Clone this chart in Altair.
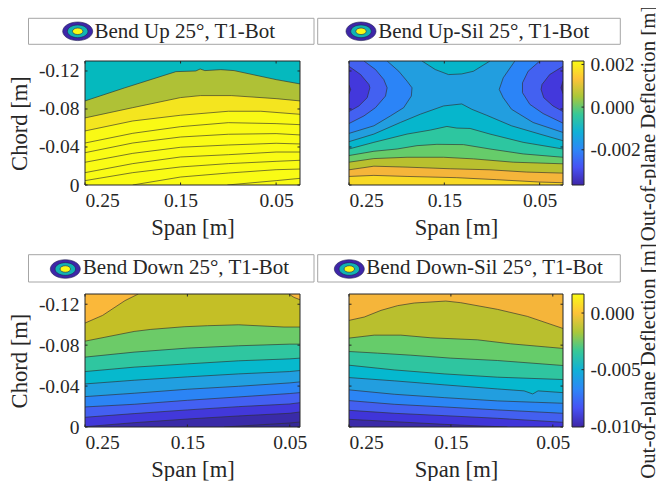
import altair as alt
import pandas as pd

FONT = "Liberation Serif"
INK = "#262626"
LINE = "#303030"
FS = 19.5
FT_LEG = 21
FT_AX = 22.6
FT_CB = 20.8

SPAN_TICKS = [0.25, 0.15, 0.05]
CHORD_TICKS = [-0.12, -0.08, -0.04, 0]
PARULA = ["#3e26a8", "#4752f4", "#2d87f7", "#11b1d6", "#37c897", "#abc739", "#fec338", "#f9fb15"]

# Panel A: Bend Up 25 (contours, top to bottom)
A1 = ([0.25, 0.2089, 0.1549, 0.134, 0.1295, 0.1246, 0.1079, 0.094, 0.05, 0.025],
      [-0.0885, -0.1021, -0.1193, -0.12, -0.1221, -0.1204, -0.1214, -0.1204, -0.1109, -0.1064])
A2 = ([0.25, 0.2, 0.15, 0.129, 0.097, 0.05, 0.025],
      [-0.0706, -0.0814, -0.092, -0.0941, -0.0941, -0.0909, -0.0885])
A3 = ([0.25, 0.2, 0.15, 0.1, 0.066, 0.025], [-0.0569, -0.0674, -0.0734, -0.0776, -0.0776, -0.0744])
A4 = ([0.25, 0.2, 0.15, 0.1, 0.05, 0.025], [-0.0442, -0.0544, -0.0614, -0.0656, -0.0646, -0.0635])
A5 = ([0.25, 0.2, 0.15, 0.1, 0.05, 0.025], [-0.034, -0.0442, -0.0505, -0.0534, -0.0541, -0.0527])
A6 = ([0.25, 0.2, 0.15, 0.1, 0.05, 0.025], [-0.0239, -0.0333, -0.0397, -0.0421, -0.0439, -0.0432])
A7 = ([0.25, 0.2, 0.15, 0.1, 0.05, 0.025], [-0.013, -0.0225, -0.0295, -0.0319, -0.0347, -0.0347])
A8 = ([0.25, 0.2, 0.15, 0.1, 0.05, 0.025], [-0.0046, -0.013, -0.019, -0.0225, -0.0249, -0.026])
A9 = ([0.2, 0.15, 0.1, 0.05, 0.025], [0, -0.0084, -0.0126, -0.0161, -0.0168])
A10 = ([0.101, 0.05, 0.025], [0, -0.0046, -0.007])
A_BASE = "#05b9be"
A_COLORS = ["#afc136", "#f4e51f", "#f9f915", "#f9fa15", "#f9fb15", "#f9fb15", "#f9fb15", "#f9fb15", "#f9fb15", "#f9fb15"]

# Panel B: Bend Up-Sil 25
B_TOP = ([0.1734, 0.1595, 0.1456, 0.1317, 0.1195, 0.1021], [-0.1305, -0.1215, -0.1162, -0.1169, -0.1197, -0.1305])
B_L_OUT = ([0.21, 0.1978, 0.1891, 0.1839, 0.1846, 0.1926, 0.2065, 0.2239, 0.25],
           [-0.1305, -0.1197, -0.1093, -0.1023, -0.0936, -0.0814, -0.0727, -0.0623, -0.0543])
B_L_MED = ([0.2343, 0.2222, 0.2135, 0.21, 0.2117, 0.2222, 0.2343, 0.25],
           [-0.1305, -0.1215, -0.111, -0.1023, -0.0936, -0.0814, -0.0727, -0.0647])
B_L_DARK = ([0.25, 0.2378, 0.2291, 0.2281, 0.2309, 0.2396, 0.25],
            [-0.1249, -0.1162, -0.1058, -0.1023, -0.0919, -0.0832, -0.0773])
B_L_CORE = ([0.25, 0.2483, 0.25], [-0.1051, -0.1006, -0.096])
B_R_OUT = ([0.076, 0.0882, 0.0924, 0.0882, 0.0795, 0.0569, 0.0255],
           [-0.1305, -0.1128, -0.1006, -0.0919, -0.0797, -0.0658, -0.0553])
B_R_MED = ([0.0499, 0.0621, 0.068, 0.068, 0.0603, 0.0464, 0.0255],
           [-0.1305, -0.1197, -0.1075, -0.0971, -0.0849, -0.0752, -0.0651])
B_R_DARK = ([0.0255, 0.0395, 0.0475, 0.0485, 0.0457, 0.036, 0.0255],
            [-0.1249, -0.1162, -0.1058, -0.1006, -0.0919, -0.0832, -0.0773])
B_R_CORE = ([0.0255, 0.0276, 0.0255], [-0.1093, -0.1023, -0.096])
B1 = ([0.25, 0.2239, 0.1961, 0.1752, 0.1508, 0.1317, 0.1212, 0.1056, 0.0795, 0.0499, 0.0255],
      [-0.0456, -0.0536, -0.0658, -0.0745, -0.0832, -0.0853, -0.0797, -0.0734, -0.0623, -0.0536, -0.0466])
B2 = ([0.25, 0.2239, 0.1891, 0.1647, 0.1473, 0.1369, 0.123, 0.1021, 0.0673, 0.0255],
      [-0.0379, -0.0449, -0.0536, -0.0578, -0.0616, -0.0599, -0.0595, -0.0536, -0.0449, -0.0379])
B3 = ([0.25, 0.2239, 0.1995, 0.1787, 0.1578, 0.1299, 0.1021, 0.0673, 0.0255],
      [-0.031, -0.0355, -0.0379, -0.0414, -0.0428, -0.0425, -0.0379, -0.0327, -0.0292])
B4 = ([0.25, 0.2239, 0.1891, 0.1508, 0.1195, 0.0777, 0.0255], [-0.024, -0.0278, -0.0292, -0.0292, -0.0275, -0.024, -0.0223])
B5 = ([0.25, 0.2239, 0.1891, 0.1439, 0.1021, 0.0638, 0.0255], [-0.016, -0.0198, -0.0188, -0.0171, -0.016, -0.0136, -0.0125])
B6 = ([0.25, 0.2239, 0.1891, 0.1369, 0.0951, 0.0499, 0.0255], [-0.009, -0.0101, -0.009, -0.0077, -0.0056, -0.0031, -0.0024])
B_BASE = "#229edf"
B_TOP_COLOR = "#06b5c9"
B_COLORS = ["#06b6cc", "#2dc6a0", "#66cc6a", "#b9c02f", "#f5b53a", "#f8d925"]
B_BLOB_COLORS = ["#2b84f7", "#4361f1", "#4338dc", "#3f26a8"]

# Panel C: Bend Down 25
C_TL = ([0.25, 0.2328, 0.211, 0.198], [-0.1016, -0.1091, -0.1235, -0.13])
C_TR = ([0.0508, 0.0459, 0.04], [-0.13, -0.1267, -0.1244])
C1 = ([0.25, 0.202, 0.1857, 0.1532, 0.1304, 0.0999, 0.0557, 0.04],
      [-0.0839, -0.0934, -0.0954, -0.098, -0.099, -0.0999, -0.0977, -0.0977])
C_SPAN = [0.25, 0.202, 0.15, 0.1, 0.05, 0.04]
C2 = (C_SPAN, [-0.0683, -0.0732, -0.0771, -0.0794, -0.081, -0.081])
C3 = (C_SPAN, [-0.0542, -0.0585, -0.0617, -0.0647, -0.0666, -0.0673])
C4 = (C_SPAN, [-0.0421, -0.0457, -0.049, -0.0519, -0.0542, -0.0552])
C5 = (C_SPAN, [-0.0297, -0.033, -0.0369, -0.0398, -0.0431, -0.0441])
C6 = (C_SPAN, [-0.0196, -0.0222, -0.0261, -0.0294, -0.0327, -0.0336])
C7 = (C_SPAN, [-0.0095, -0.0131, -0.0167, -0.0199, -0.0225, -0.0238])
C8 = (C_SPAN, [-0.0003, -0.0042, -0.0078, -0.0108, -0.0134, -0.0147])
C9 = ([0.1142, 0.05, 0.04], [0, -0.0039, -0.0049])
C_BASE = "#c4bf26"
C_TOP_COLOR = "#fab83a"
C_COLORS = ["#6ccb68", "#2fc6a0", "#06b9cd", "#219fe0", "#2b84f5", "#4360f2", "#4238da", "#3a2ba8", "#352897"]

# Panel D: Bend Down-Sil 25
D1 = ([0.25, 0.235, 0.2186, 0.2023, 0.186, 0.155, 0.1403, 0.1043, 0.0749, 0.04],
      [-0.1042, -0.1075, -0.114, -0.1186, -0.1212, -0.1231, -0.1215, -0.115, -0.1081, -0.0963])
D2 = ([0.25, 0.2252, 0.1991, 0.1697, 0.1239, 0.0913, 0.04], [-0.0869, -0.0898, -0.0898, -0.0872, -0.0852, -0.0813, -0.0768])
D3 = ([0.25, 0.2219, 0.1893, 0.15, 0.1043, 0.04], [-0.0738, -0.0722, -0.0702, -0.0673, -0.065, -0.0601])
D4 = ([0.25, 0.2056, 0.1566, 0.1043, 0.04], [-0.0604, -0.0558, -0.0519, -0.0487, -0.0464])
D5 = ([0.25, 0.2056, 0.1566, 0.1043, 0.0782, 0.0697, 0.0645, 0.04],
      [-0.0483, -0.0451, -0.0412, -0.0372, -0.0353, -0.0323, -0.0353, -0.0336])
D6 = ([0.25, 0.2056, 0.1566, 0.1043, 0.04], [-0.0363, -0.032, -0.0287, -0.0255, -0.0232])
D7 = ([0.25, 0.2056, 0.1566, 0.1043, 0.04], [-0.0258, -0.0222, -0.0196, -0.0167, -0.0134])
D8 = ([0.25, 0.2056, 0.1566, 0.1043, 0.04], [-0.0163, -0.0134, -0.0111, -0.0085, -0.0046])
D9 = ([0.25, 0.2056, 0.1566, 0.1207, 0.0946], [-0.0075, -0.0052, -0.0026, -0.001, 0])
D_BASE = "#f5b53a"
D_COLORS = ["#b9bf2e", "#66cc6a", "#2fc5a0", "#05b8cf", "#229edf", "#2b85f5", "#4360f0", "#4035d9", "#3b2aa8"]

W_L, W_R, H_T, H_B = 215, 214, 124, 133
DOM_T, DOM_B = -0.1305, -0.13


def pts(c):
    return pd.DataFrame({"span": c[0], "chord": c[1], "i": range(len(c[0]))})


def encoders(xdom, ydom, ylabels):
    ax_x = alt.Axis(values=SPAN_TICKS, format=".2f", title="Span [m]", ticks=False, domain=False, grid=False,
                    labelFont=FONT, titleFont=FONT, labelFontSize=FS, titleFontSize=FT_AX, titleFontWeight="normal",
                    labelColor=INK, titleColor=INK, labelPadding=6.5, titlePadding=6, labelOverlap=False)
    ax_y = alt.Axis(values=CHORD_TICKS, title="Chord [m]" if ylabels else "", ticks=False, domain=False, grid=False,
                    labels=ylabels, labelFont=FONT, titleFont=FONT, labelFontSize=FS, titleFontSize=FT_AX,
                    titleFontWeight="normal", labelColor=INK, titleColor=INK, labelPadding=6, titlePadding=7,
                    labelExpr="datum.value == 0 ? '0' : '-' + format(abs(datum.value), '.2f')", labelOverlap=False)
    x = alt.X("span:Q", scale=alt.Scale(domain=xdom, nice=False, zero=False), axis=ax_x)
    y = alt.Y("chord:Q", scale=alt.Scale(domain=ydom, nice=False, zero=False), axis=ax_y)
    return x, y


def band(c, color, to, x, y):
    """Fill from a contour to a chord level, and the contour line itself."""
    df = pts(c)
    a = alt.Chart(df).mark_area(color=color, clip=True, interpolate="linear").encode(
        x=x, y=y, y2=alt.Y2(datum=to))
    l = alt.Chart(df).mark_line(color=LINE, strokeWidth=0.75, opacity=0.85, clip=True).encode(
        x=x, y=y, order="i:Q")
    return [a, l]


def blob(c, color, edge, x, y):
    """Side region: span as a function of chord, closed against a span edge."""
    df = pts(c)
    a = alt.Chart(df).mark_area(color=color, orient="horizontal", clip=True).encode(
        x=x, x2=alt.X2(datum=edge), y=y)
    l = alt.Chart(df).mark_line(color=LINE, strokeWidth=0.75, opacity=0.85, clip=True).encode(
        x=x, y=y, order="i:Q")
    return [a, l]


def furniture(title, legend_box, icon, text_x, text_y, w, h, x, y):
    box = alt.Chart(alt.Data(values=[{"t": title}]))
    out = []
    out.append(box.mark_rect(fill="white", stroke="#a6a6a6", strokeWidth=1).encode(
        x=alt.value(legend_box[0]), x2=alt.value(legend_box[1]),
        y=alt.value(legend_box[2]), y2=alt.value(legend_box[3])))
    for size, col, in [(900, "#3e26a8"), (420, "#11b3b3"), (110, "#f9fb15")]:
        out.append(box.mark_point(
            shape="M-1,0A1,0.62,0,1,1,1,0A1,0.62,0,1,1,-1,0Z", filled=True, fill=col, opacity=1,
            stroke="#202050", strokeWidth=0.6, size=size).encode(x=alt.value(icon[0]), y=alt.value(icon[1])))
    out.append(box.mark_text(font=FONT, fontSize=FT_LEG, align="left", baseline="middle", color=INK).encode(
        x=alt.value(text_x), y=alt.value(text_y), text="t:N"))
    # inward ticks and frame
    xt = alt.Chart(pd.DataFrame({"span": SPAN_TICKS}))
    yt = alt.Chart(pd.DataFrame({"chord": CHORD_TICKS}))
    out.append(xt.mark_rule(color=INK, strokeWidth=1).encode(x=x, y=alt.value(h), y2=alt.value(h - 2.5)))
    out.append(xt.mark_rule(color=INK, strokeWidth=1).encode(x=x, y=alt.value(0), y2=alt.value(2.5)))
    out.append(yt.mark_rule(color=INK, strokeWidth=1).encode(y=y, x=alt.value(0), x2=alt.value(2.5)))
    out.append(yt.mark_rule(color=INK, strokeWidth=1).encode(y=y, x=alt.value(w), x2=alt.value(w - 2.5)))
    out.append(box.mark_rect(fillOpacity=0, stroke=INK, strokeWidth=1).encode(
        x=alt.value(0), x2=alt.value(w), y=alt.value(0), y2=alt.value(h)))
    return out


# ---------- A
x, y = encoders([0.25, 0.025], [0, DOM_T], True)
la = band(([0.25, 0.025], [DOM_T, DOM_T]), A_BASE, 0, x, y)[:1]
for c, col in zip([A1, A2, A3, A4, A5, A6, A7, A8, A9, A10], A_COLORS):
    la += band(c, col, 0, x, y)
la += furniture("Bend Up 25°, T1-Bot", (-56.5, 229, -42.7, -16.7), (-7.3, -29.7), 9.5, -29.2, W_L, H_T, x, y)
pa = alt.layer(*la).properties(width=W_L, height=H_T)

# ---------- B
x, y = encoders([0.25, 0.0255], [0, DOM_T], False)
lb = band(([0.25, 0.0255], [DOM_T, DOM_T]), B_BASE, 0, x, y)[:1]
lb += band(B_TOP, B_TOP_COLOR, DOM_T, x, y)
for c, col in zip([B_L_OUT, B_L_MED, B_L_DARK, B_L_CORE], B_BLOB_COLORS):
    lb += blob(c, col, 0.25, x, y)
for c, col in zip([B_R_OUT, B_R_MED, B_R_DARK, B_R_CORE], B_BLOB_COLORS):
    lb += blob(c, col, 0.0255, x, y)
for c, col in zip([B1, B2, B3, B4, B5, B6], B_COLORS):
    lb += band(c, col, 0, x, y)
lb += furniture("Bend Up-Sil 25°, T1-Bot", (-31.3, 271.3, -42.7, -16.7), (12, -29.7), 29.2, -29.2, W_R, H_T, x, y)
pb = alt.layer(*lb).properties(width=W_R, height=H_T)

# ---------- C
x, y = encoders([0.25, 0.04], [0, DOM_B], True)
lc = band(([0.25, 0.04], [DOM_B, DOM_B]), C_BASE, 0, x, y)[:1]
lc += band(C_TL, C_TOP_COLOR, DOM_B, x, y)
lc += band(C_TR, C_TOP_COLOR, DOM_B, x, y)
for c, col in zip([C1, C2, C3, C4, C5, C6, C7, C8, C9], C_COLORS):
    lc += band(c, col, 0, x, y)
lc += furniture("Bend Down 25°, T1-Bot", (-56.5, 229, -39.3, -12), (-19.7, -25), -2.2, -26, W_L, H_B, x, y)
pc = alt.layer(*lc).properties(width=W_L, height=H_B)

# ---------- D
x, y = encoders([0.25, 0.04], [0, DOM_B], False)
ld = band(([0.25, 0.04], [DOM_B, DOM_B]), D_BASE, 0, x, y)[:1]
for c, col in zip([D1, D2, D3, D4, D5, D6, D7, D8, D9], D_COLORS):
    ld += band(c, col, 0, x, y)
ld += furniture("Bend Down-Sil 25°, T1-Bot", (-31.3, 271.3, -39.3, -12), (0.3, -25), 17.2, -26, W_R, H_B, x, y)
pd_ = alt.layer(*ld).properties(width=W_R, height=H_B)


# ---------- colour bars
def colorbar(ticks, dom, fmt, h):
    grad = alt.Gradient(gradient="linear", x1=0, x2=0, y1=1, y2=0,
                        stops=[alt.GradientStop(color=c, offset=i / (len(PARULA) - 1)) for i, c in enumerate(PARULA)])
    bar = alt.Chart(alt.Data(values=[{"t": 1}])).mark_rect(fill=grad, stroke=INK, strokeWidth=1).encode(
        x=alt.value(0), x2=alt.value(12), y=alt.value(0), y2=alt.value(h))
    ax = alt.Axis(values=ticks, orient="right", ticks=False, domain=False, grid=False, labelFont=FONT,
                  labelFontSize=FS, labelColor=INK, labelPadding=6,
                  labelExpr="(datum.value < 0 ? '-' : '') + format(abs(datum.value), '%s')" % fmt,
                  title="Out-of-plane Deflection [m]", titleFont=FONT, titleFontSize=FT_CB, titleColor=INK,
                  titleFontWeight="normal", titleAngle=270, titleX=74, titleY=h / 2, labelOverlap=False)
    tk = alt.Chart(pd.DataFrame({"v": ticks})).mark_rule(color=INK, strokeWidth=1).encode(
        y=alt.Y("v:Q", scale=alt.Scale(domain=dom, nice=False, zero=False), axis=ax),
        x=alt.value(12), x2=alt.value(9.5))
    return alt.layer(bar, tk).properties(width=12, height=h)


def spacer(h):
    return alt.Chart(alt.Data(values=[{"t": 1}])).mark_point(opacity=0).encode(
        x=alt.value(0), y=alt.value(0)).properties(width=31, height=h)


cb1 = colorbar([-0.002, 0, 0.002], [-0.00365, 0.00216], ".3f", H_T)
cb2 = colorbar([-0.01, -0.005, 0], [-0.01006, 0.00168], ".3f", H_B)

chart = alt.concat(pa, spacer(H_T), pb, cb1, pc, spacer(H_B), pd_, cb2, columns=4, bounds="flush", align="each",
                   spacing={"row": 109, "column": 9}).configure_view(stroke=None).properties(
    padding={"left": 0, "top": -3, "right": -2, "bottom": 0}, background="white")

chart.save("out.html", embed_options={"renderer": "svg", "actions": False})
